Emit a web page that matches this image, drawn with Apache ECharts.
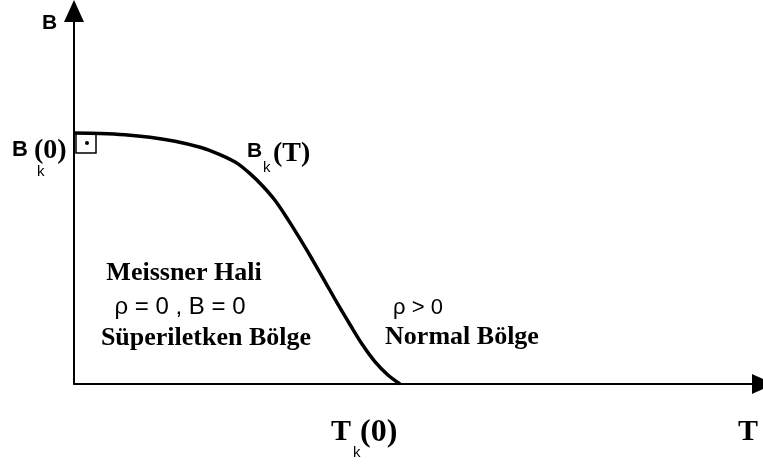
<!DOCTYPE html>
<html>
<head>
<meta charset="utf-8">
<script src="https://cdn.jsdelivr.net/npm/echarts@6/dist/echarts.min.js"></script>
<style>
  html, body { margin: 0; padding: 0; background: #ffffff; }
  #chart { width: 763px; height: 464px; }
</style>
</head>
<body>
<div id="chart"></div>
<script>
// Critical field curve B_k(T), in units of T_k(0) and B_k(0)
const temperature = [0, 0.080, 0.156, 0.233, 0.310, 0.387, 0.425, 0.463, 0.502, 0.540, 0.578, 0.617, 0.655,
  0.693, 0.732, 0.770, 0.808, 0.847, 0.885, 0.923, 0.962, 1.0];
const criticalField = [1.0, 0.998, 0.993, 0.983, 0.967, 0.943, 0.926, 0.905, 0.878, 0.838, 0.790, 0.731, 0.658,
  0.579, 0.494, 0.408, 0.321, 0.236, 0.156, 0.089, 0.037, 0];

// Axis extents (the axes run past the curve to the arrow heads)
const tMax = 2.1135;
const bMax = 1.486;

const serifBold = 'bold 26px "Liberation Serif", "Times New Roman", serif';
const sansBold = 'bold 21px "Liberation Sans", Arial, sans-serif';

const chart = echarts.init(document.getElementById('chart'), null, { renderer: 'canvas' });

function txt(text, x, y, font, align) {
  return {
    type: 'text',
    z: 10,
    style: {
      text: text, x: x, y: y, font: font, fill: '#000',
      align: align || 'left', verticalAlign: 'middle'
    }
  };
}

const axisLine = {
  show: true,
  symbol: ['none', 'triangle'],
  symbolSize: [20, 22],
  lineStyle: { color: '#000', width: 2 }
};

chart.setOption({
  animation: false,
  backgroundColor: '#ffffff',
  grid: { left: 74, right: 0, top: 11, bottom: 80 },
  xAxis: {
    type: 'value', min: 0, max: tMax,
    axisLine: axisLine,
    axisTick: { show: false }, axisLabel: { show: false }, splitLine: { show: false }
  },
  yAxis: {
    type: 'value', min: 0, max: bMax,
    axisLine: axisLine,
    axisTick: { show: false }, axisLabel: { show: false }, splitLine: { show: false }
  },
  series: [{
    type: 'line',
    data: temperature.map((t, i) => [t, criticalField[i]]),
    smooth: 0.3,
    showSymbol: false,
    lineStyle: { color: '#000', width: 3.5 }
  }]
});

// Corner marker at B_k(0) and the text annotations
const p0 = chart.convertToPixel({ seriesIndex: 0 }, [0, criticalField[0]]);

chart.setOption({
  graphic: [
    {
      type: 'rect', z: 9,
      shape: { x: p0[0] + 2, y: p0[1], width: 20, height: 20 },
      style: { fill: 'none', stroke: '#000', lineWidth: 1.5 }
    },
    {
      type: 'circle', z: 9,
      shape: { cx: p0[0] + 13, cy: p0[1] + 10, r: 2 },
      style: { fill: '#000' }
    },
    txt('B', 42, 23, sansBold),
    txt('B', 12, 150, 'bold 22px "Liberation Sans", Arial, sans-serif'),
    txt('(0)', 34, 151, 'bold 28px "Liberation Serif", "Times New Roman", serif'),
    txt('k', 37, 172, '15px "Liberation Sans", Arial, sans-serif'),
    txt('B', 247, 151, sansBold),
    txt('k', 263, 168, '15px "Liberation Sans", Arial, sans-serif'),
    txt('(T)', 273, 154, 'bold 28px "Liberation Serif", "Times New Roman", serif'),
    txt('Meissner Hali', 184, 273, serifBold, 'center'),
    txt('\u03c1 = 0 , B = 0', 180, 307, '24px "Liberation Sans", Arial, sans-serif', 'center'),
    txt('S\u00fcperiletken B\u00f6lge', 206, 338, serifBold, 'center'),
    txt('\u03c1 > 0', 418, 308, '22px "Liberation Sans", Arial, sans-serif', 'center'),
    txt('Normal B\u00f6lge', 462, 337, serifBold, 'center'),
    txt('T', 331, 432, 'bold 30px "Liberation Serif", "Times New Roman", serif'),
    txt('k', 353, 453, '15px "Liberation Sans", Arial, sans-serif'),
    txt('(0)', 360, 433, 'bold 32px "Liberation Serif", "Times New Roman", serif'),
    txt('T', 748, 432, 'bold 30px "Liberation Serif", "Times New Roman", serif', 'center')
  ]
});
</script>
</body>
</html>
